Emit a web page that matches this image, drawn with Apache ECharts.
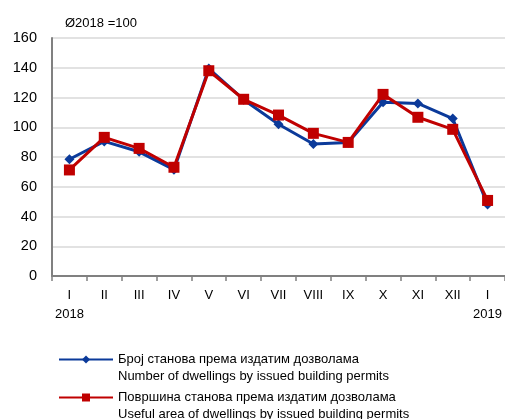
<!DOCTYPE html>
<html><head><meta charset="utf-8">
<script src="https://cdn.jsdelivr.net/npm/echarts@6/dist/echarts.min.js"></script>
<style>html,body{margin:0;padding:0;background:#fff}#c{width:505px;height:419px}</style>
</head><body><div id="c"></div>
<script>
const categories = ['I\n2018','II','III','IV','V','VI','VII','VIII','IX','X','XI','XII','I\n2019'];
const dwellings = [78.5, 90.5, 83.5, 71.5, 139.5, 118.5, 102, 88.7, 89.7, 116.8, 116, 105.8, 48];
const usefulArea = [71.3, 93.2, 85.8, 73.1, 138, 118.8, 108.2, 95.9, 89.8, 122.1, 106.7, 98.6, 50.8];
const seriesNames = ['Број станова према издатим дозволама\nNumber of dwellings by issued building permits',
                     'Површина станова према издатим дозволама\nUseful area of dwellings by issued building permits'];
const yTicks = {min:0, max:160, interval:20};
const subtitle = 'Ø2018 =100';

const chart = echarts.init(document.getElementById('c'), null, {renderer:'canvas'});
const font = 'Arial, "Liberation Sans", sans-serif';
const legendText = {fontFamily:font, fontSize:13, color:'#000', lineHeight:17};
const legendFmt = name => '\n' + name;
chart.setOption({
  animation:false,
  title:{text:subtitle, left:65, top:17, padding:0, textStyle:{fontFamily:font, fontSize:13, fontWeight:'normal', color:'#000'}},
  grid:{left:52, top:38, width:458, height:238},
  legend:[
    {orient:'vertical', left:58, top:334, padding:0, itemWidth:54, itemHeight:10,
     data:[seriesNames[0]], textStyle:legendText, formatter:legendFmt},
    {orient:'vertical', left:58, top:372, padding:0, itemWidth:54, itemHeight:10,
     data:[seriesNames[1]], textStyle:legendText, formatter:legendFmt}
  ],
  xAxis:{type:'category', data:categories, boundaryGap:true,
    axisLine:{lineStyle:{color:'#808080', width:2}},
    axisTick:{show:true, length:5, lineStyle:{color:'#808080', width:1.5}},
    axisLabel:{fontFamily:font, fontSize:13, color:'#000', margin:10, lineHeight:19, interval:0}
  },
  yAxis:{type:'value', min:yTicks.min, max:yTicks.max, interval:yTicks.interval,
    axisLine:{show:true, lineStyle:{color:'#808080', width:2}},
    axisTick:{show:false},
    splitLine:{lineStyle:{color:'#d9d9d9', width:1.5}},
    axisLabel:{fontFamily:font, fontSize:14.5, color:'#000', margin:15}
  },
  series:[
    {name:seriesNames[0], type:'line', data:dwellings, symbol:'diamond', symbolSize:10,
     lineStyle:{color:'#0b3a9a', width:3}, itemStyle:{color:'#0b3a9a'}, z:2},
    {name:seriesNames[1], type:'line', data:usefulArea, symbol:'rect', symbolSize:11,
     lineStyle:{color:'#c00000', width:3}, itemStyle:{color:'#c00000'}, z:3}
  ]
});
</script></body></html>
